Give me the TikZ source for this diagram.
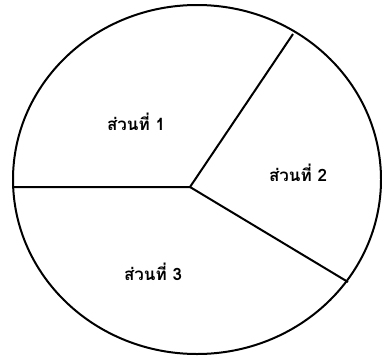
\documentclass[tikz,border=0pt]{standalone}
\usepackage{fontspec}
\newfontfamily\thaifont[Script=Thai]{Loma}
\usepackage{tikz}
\usetikzlibrary{calc}

\begin{document}
\begin{tikzpicture}[x=1pt, y=-1pt, line width=2pt,
    partlabel/.style={font=\thaifont\bfseries\fontsize{17}{19}\selectfont, inner sep=0pt}]
                \useasboundingbox (0,0) rectangle (382,356);
                \coordinate (O) at (197,179.5);
                \coordinate (M) at (190,187);
                \coordinate (L) at (13,187);
                \coordinate (U) at (293,34);
                \coordinate (R) at (348,282);
                \draw (O) ellipse [x radius=184, y radius=174.5];
                \draw (L) -- (M) -- (U);
                \draw (M) -- (R);
                \node[partlabel] (p1) at (136,122) {ส่วนที่ 1};
                \node[partlabel] (p2) at (298,173) {ส่วนที่ 2};
                \node[partlabel] (p3) at (153,272) {ส่วนที่ 3};
                \end{tikzpicture}
\end{document}
